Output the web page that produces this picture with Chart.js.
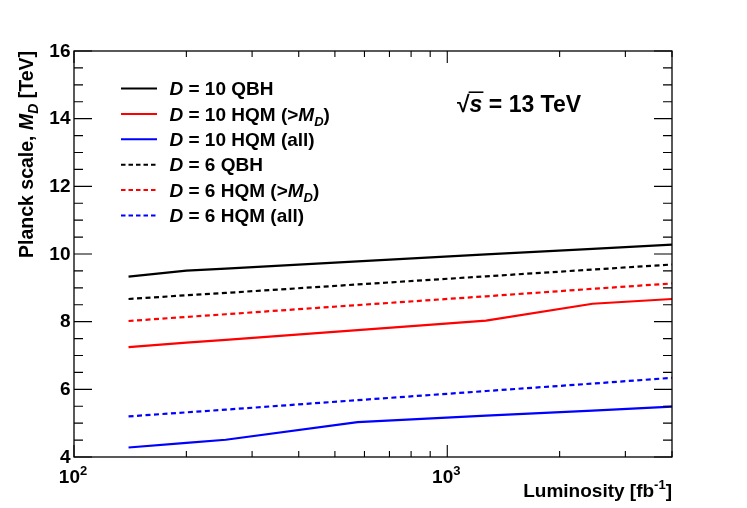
<!DOCTYPE html>
<html><head><meta charset="utf-8">
<script src="https://cdn.jsdelivr.net/npm/chart.js@4"></script>
<style>html,body{margin:0;padding:0;background:#fff}#wrap{width:747px;height:508px;position:relative}</style>
</head><body><div id="wrap"><canvas id="c"></canvas></div>
<script>
// ---- data ----
const luminosity   = [140, 200, 255, 575, 1270, 2450, 4000];
const qbhD10       = [9.33, 9.51, 9.57, 9.78, 9.99, 10.15, 10.28];
const hqmAboveD10  = [7.25, 7.38, 7.46, 7.75, 8.03, 8.53, 8.67];
const hqmAllD10    = [4.28, 4.42, 4.51, 5.03, 5.22, 5.37, 5.49];
const qbhD6        = [8.67, 8.78, 8.85, 9.10, 9.34, 9.54, 9.69];
const hqmAboveD6   = [8.02, 8.14, 8.22, 8.49, 8.75, 8.97, 9.13];
const hqmAllD6     = [5.20, 5.32, 5.40, 5.68, 5.95, 6.17, 6.34];
const yTickLabels  = [4, 6, 8, 10, 12, 14, 16];
const xTickLabels  = [100, 1000];
const seriesNames  = ['D = 10 QBH', 'D = 10 HQM (>M_D)', 'D = 10 HQM (all)', 'D = 6 QBH', 'D = 6 HQM (>M_D)', 'D = 6 HQM (all)'];

const FONT = '"Liberation Sans", Arial, Helvetica, sans-serif';
function pts(vals){ return luminosity.map((x,i)=>({x:x, y:vals[i]})); }
const DASH = [5,3.5];
const series = [
  {name:seriesNames[0], vals:qbhD10, color:'#000000', dash:[]},
  {name:seriesNames[1], vals:hqmAboveD10, color:'#ff0000', dash:[]},
  {name:seriesNames[2], vals:hqmAllD10, color:'#0000ff', dash:[]},
  {name:seriesNames[3], vals:qbhD6, color:'#000000', dash:DASH},
  {name:seriesNames[4], vals:hqmAboveD6, color:'#ff0000', dash:DASH},
  {name:seriesNames[5], vals:hqmAllD6, color:'#0000ff', dash:DASH}
];

// parse "D = 10 HQM (>M_D)" into rich segments
function richName(s){
  const segs=[];
  segs.push({t:'D', it:true});
  let rest = s.slice(1);
  const idx = rest.indexOf('M_D');
  if(idx>=0){
    segs.push({t:rest.slice(0,idx)});
    segs.push({t:'M', it:true});
    segs.push({t:'D', it:true, sub:true});
    segs.push({t:rest.slice(idx+3)});
  } else segs.push({t:rest});
  return segs;
}

function segFont(seg, size){
  const sz = (seg.sub||seg.sup) ? Math.round(size*0.7) : size;
  return (seg.it?'italic ':'') + 'bold ' + sz + 'px ' + FONT;
}
function richWidth(ctx, segs, size){
  let w=0; for(const s of segs){ ctx.font=segFont(s,size); w+=ctx.measureText(s.t).width; } return w;
}
function drawRich(ctx, x, y, segs, size, align){
  const w = richWidth(ctx, segs, size);
  let cx = align==='right' ? x-w : align==='center' ? x-w/2 : x;
  ctx.textAlign='left'; ctx.textBaseline='alphabetic'; ctx.fillStyle='#000';
  for(const s of segs){
    ctx.font=segFont(s,size);
    let dy = s.sub ? size*0.28 : s.sup ? -size*0.42 : 0;
    ctx.fillText(s.t, cx, y+dy);
    cx += ctx.measureText(s.t).width;
  }
  return w;
}

const rootStyle = {
  id:'rootStyle',
  afterDraw(chart){
    const ctx=chart.ctx, a=chart.chartArea, xs=chart.scales.x, ys=chart.scales.y;
    ctx.save();
    // frame
    ctx.strokeStyle='#000'; ctx.lineWidth=1.3; ctx.setLineDash([]);
    ctx.strokeRect(a.left, a.top, a.right-a.left, a.bottom-a.top);
    // y ticks (inward, left & right)
    ctx.lineWidth=1.1;
    ctx.beginPath();
    for(let v=ys.min; v<=ys.max+1e-9; v+=0.5){
      const py=ys.getPixelForValue(v);
      const len = (Math.abs(v%2)<1e-9) ? 18 : 9;
      ctx.moveTo(a.left,py); ctx.lineTo(a.left+len,py);
      ctx.moveTo(a.right,py); ctx.lineTo(a.right-len,py);
    }
    // x ticks (log, inward, bottom & top)
    for(const d of xTickLabels){
      for(let k=1;k<=9;k++){
        const v=k*d; if(v<xs.min-1e-9||v>xs.max+1e-9) continue;
        const px=xs.getPixelForValue(v);
        const len = k===1 ? 12 : 6;
        ctx.moveTo(px,a.bottom); ctx.lineTo(px,a.bottom-len);
        ctx.moveTo(px,a.top); ctx.lineTo(px,a.top+len);
      }
    }
    ctx.stroke();
    // y tick labels
    ctx.fillStyle='#000'; ctx.font='bold 19px '+FONT; ctx.textAlign='right'; ctx.textBaseline='alphabetic';
    for(const v of yTickLabels){
      ctx.fillText(String(v), a.left-3.5, ys.getPixelForValue(v)+5.5);
    }
    // x tick labels 10^n
    for(const v of xTickLabels){
      const e = Math.round(Math.log10(v));
      drawRich(ctx, xs.getPixelForValue(v)-1, a.bottom+26, [{t:'10'},{t:String(e),sup:true}], 19, 'center');
    }
    // x title
    drawRich(ctx, a.right, a.bottom+40, [{t:'Luminosity [fb'},{t:'-1',sup:true},{t:']'}], 19, 'right');
    // y title
    ctx.save();
    ctx.translate(33, a.top);
    ctx.rotate(-Math.PI/2);
    drawRich(ctx, 0, 0, [{t:'Planck scale, '},{t:'M',it:true},{t:'D',it:true,sub:true},{t:' [TeV]'}], 19.5, 'right');
    ctx.restore();
    // legend
    const lx0=121, lx1=157, tx=169.5, ly0=88.5, dyL=25.4;
    series.forEach((s,i)=>{
      const y=ly0+i*dyL;
      ctx.strokeStyle=s.color; ctx.lineWidth=2; ctx.setLineDash(s.dash.length?[4.5,3]:[]);
      ctx.beginPath(); ctx.moveTo(lx0,y); ctx.lineTo(lx1,y); ctx.stroke();
      ctx.setLineDash([]);
      drawRich(ctx, tx, y+6.7, richName(s.name), 19, 'left');
    });
    // sqrt(s) = 13 TeV
    const bx=457, by=112, sz=23;
    ctx.font='bold '+sz+'px '+FONT; ctx.fillStyle='#000';
    ctx.textAlign='left';
    ctx.fillText('\u221A', bx, by);
    const rw = ctx.measureText('\u221A').width;
    ctx.font='italic bold '+sz+'px '+FONT;
    const sw = ctx.measureText('s').width;
    ctx.fillText('s', bx+rw, by);
    ctx.strokeStyle='#000'; ctx.lineWidth=1.6;
    ctx.beginPath(); ctx.moveTo(bx+rw-1, by-sz*0.86); ctx.lineTo(bx+rw+sw+1, by-sz*0.86); ctx.stroke();
    ctx.font='bold '+sz+'px '+FONT;
    ctx.fillText(' = 13 TeV', bx+rw+sw, by);
    ctx.restore();
  }
};

new Chart(document.getElementById('c'), {
  type:'scatter',
  data:{ datasets: series.map(s=>({
    label:s.name, data:pts(s.vals), showLine:true, borderColor:s.color, backgroundColor:s.color,
    borderDash:s.dash, borderWidth:2.2, pointRadius:0, tension:0, fill:false
  })) },
  options:{
    responsive:true, maintainAspectRatio:false, animation:false,
    layout:{padding:{left:74,right:75,top:51,bottom:51}},
    plugins:{legend:{display:false}, tooltip:{enabled:false}},
    scales:{
      x:{type:'logarithmic', min:100, max:4000, display:false},
      y:{type:'linear', min:4, max:16, display:false}
    }
  },
  plugins:[rootStyle]
});
</script></body></html>
